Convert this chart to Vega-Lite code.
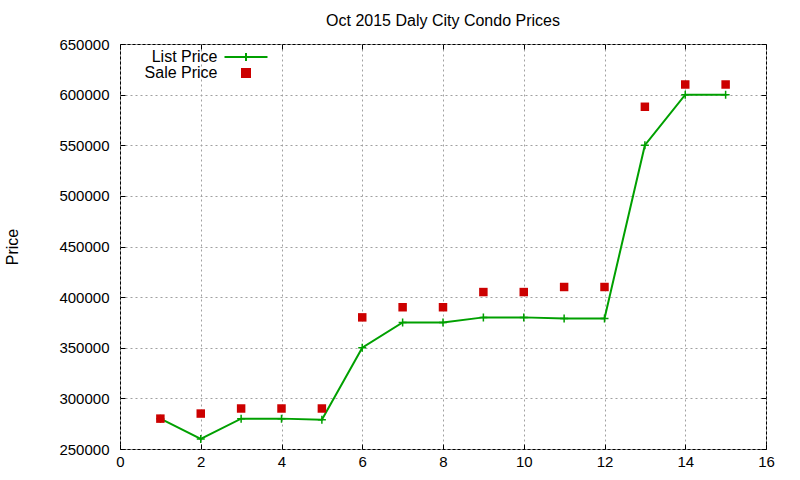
{
  "$schema": "https://vega.github.io/schema/vega-lite/v6.json",
  "width": 646,
  "height": 405,
  "autosize": {"type": "none"},
  "padding": {"left": 120, "top": 44, "right": 34, "bottom": 31},
  "background": "white",
  "title": {
    "text": "Oct 2015 Daly City Condo Prices",
    "font": "Liberation Sans",
    "fontSize": 16,
    "fontWeight": "normal",
    "color": "black",
    "anchor": "middle",
    "offset": 8
  },
  "config": {
    "view": {"stroke": "black", "strokeWidth": 1},
    "axis": {
      "labelFont": "Liberation Sans",
      "labelFontSize": 15,
      "labelColor": "black",
      "labelFlush": false,
      "titleFont": "Liberation Sans",
      "titleFontSize": 16,
      "titleFontWeight": "normal",
      "titleColor": "black",
      "domain": false,
      "tickColor": "black",
      "tickSize": -5,
      "gridColor": "#a0a0a0",
      "gridDash": [2, 3],
      "gridWidth": 1
    }
  },
  "data": {
    "values": [
      {"x": 1, "price": 280000, "series": "List Price"},
      {"x": 2, "price": 260000, "series": "List Price"},
      {"x": 3, "price": 280000, "series": "List Price"},
      {"x": 4, "price": 280000, "series": "List Price"},
      {"x": 5, "price": 279000, "series": "List Price"},
      {"x": 6, "price": 350000, "series": "List Price"},
      {"x": 7, "price": 375000, "series": "List Price"},
      {"x": 8, "price": 375000, "series": "List Price"},
      {"x": 9, "price": 380000, "series": "List Price"},
      {"x": 10, "price": 380000, "series": "List Price"},
      {"x": 11, "price": 379000, "series": "List Price"},
      {"x": 12, "price": 379000, "series": "List Price"},
      {"x": 13, "price": 550000, "series": "List Price"},
      {"x": 14, "price": 600000, "series": "List Price"},
      {"x": 15, "price": 600000, "series": "List Price"},
      {"x": 1, "price": 280000, "series": "Sale Price"},
      {"x": 2, "price": 285000, "series": "Sale Price"},
      {"x": 3, "price": 290000, "series": "Sale Price"},
      {"x": 4, "price": 290000, "series": "Sale Price"},
      {"x": 5, "price": 290000, "series": "Sale Price"},
      {"x": 6, "price": 380000, "series": "Sale Price"},
      {"x": 7, "price": 390000, "series": "Sale Price"},
      {"x": 8, "price": 390000, "series": "Sale Price"},
      {"x": 9, "price": 405000, "series": "Sale Price"},
      {"x": 10, "price": 405000, "series": "Sale Price"},
      {"x": 11, "price": 410000, "series": "Sale Price"},
      {"x": 12, "price": 410000, "series": "Sale Price"},
      {"x": 13, "price": 588000, "series": "Sale Price"},
      {"x": 14, "price": 610000, "series": "Sale Price"},
      {"x": 15, "price": 610000, "series": "Sale Price"}
    ]
  },
  "layer": [
    {
      "transform": [{"filter": "datum.series === 'List Price'"}],
      "mark": {"type": "line", "strokeWidth": 2},
      "encoding": {
        "x": {
          "field": "x", "type": "quantitative",
          "scale": {"domain": [0, 16], "nice": false, "zero": false},
          "axis": {"values": [0, 2, 4, 6, 8, 10, 12, 14, 16], "title": null, "labelPadding": 10, "grid": true}
        },
        "y": {
          "field": "price", "type": "quantitative",
          "scale": {"domain": [250000, 650000], "nice": false, "zero": false},
          "axis": {
            "values": [250000, 300000, 350000, 400000, 450000, 500000, 550000, 600000, 650000],
            "format": "d", "title": "Price", "titlePadding": 38, "labelPadding": 16, "grid": true
          }
        },
        "color": {
          "field": "series", "type": "nominal",
          "scale": {"domain": ["List Price", "Sale Price"], "range": ["#00a000", "#cc0000"]},
          "legend": {
            "orient": "none",
            "legendX": 118,
            "legendY": 5,
            "title": null,
            "padding": 0,
            "labelFont": "Liberation Sans",
            "labelFontSize": 16,
            "labelColor": "black",
            "labelAlign": "right",
            "labelOffset": -36.5,
            "symbolSize": 100,
            "rowPadding": -2,
            "encode": {
              "symbols": {
                "update": {
                  "shape": {"signal": "datum.label === 'List Price' ? 'M-4.3,0H4.3M0,-0.8V0.8' : 'M-0.8,-0.8H0.8V0.8H-0.8Z'"},
                  "fill": {"signal": "datum.label === 'List Price' ? 'transparent' : '#cc0000'"},
                  "stroke": {"signal": "datum.label === 'List Price' ? '#00a000' : 'transparent'"},
                  "strokeWidth": {"value": 2},
                  "opacity": {"value": 1}
                }
              }
            }
          }
        }
      }
    },
    {
      "transform": [{"filter": "datum.series === 'List Price'"}],
      "mark": {"type": "point", "shape": "M-1,0H1M0,-1V1", "size": 64, "filled": false, "stroke": "#00a000", "strokeWidth": 1.5, "opacity": 1},
      "encoding": {
        "x": {
          "field": "x", "type": "quantitative",
          "axis": {"orient": "top", "values": [0, 2, 4, 6, 8, 10, 12, 14, 16], "labels": false, "title": null, "grid": false}
        },
        "y": {
          "field": "price", "type": "quantitative",
          "axis": {
            "orient": "right",
            "values": [250000, 300000, 350000, 400000, 450000, 500000, 550000, 600000, 650000],
            "labels": false, "title": null, "grid": false
          }
        }
      }
    },
    {
      "transform": [{"filter": "datum.series === 'Sale Price'"}],
      "mark": {"type": "point", "shape": "square", "size": 72, "filled": true, "opacity": 1},
      "encoding": {
        "x": {"field": "x", "type": "quantitative", "axis": null},
        "y": {"field": "price", "type": "quantitative", "axis": null},
        "color": {"field": "series", "type": "nominal"}
      }
    }
  ],
  "resolve": {"axis": {"x": "independent", "y": "independent"}}
}
